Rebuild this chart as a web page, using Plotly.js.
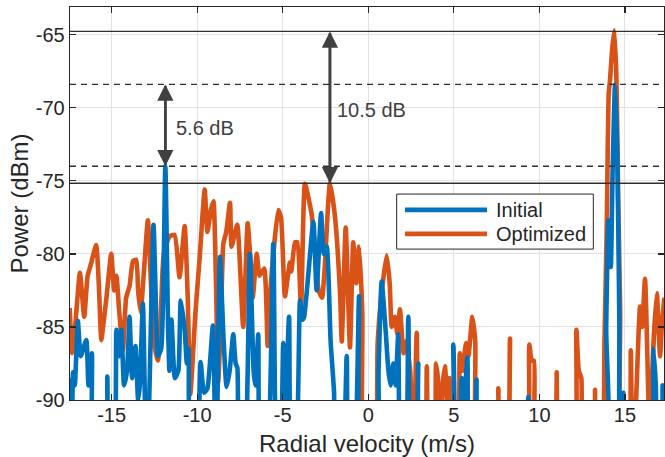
<!DOCTYPE html>
<html>
<head>
<meta charset="utf-8">
<script src="https://cdn.plot.ly/plotly-3.0.1.min.js"></script>
<style>html,body{margin:0;padding:0;background:#fff;}#chart{width:665px;height:457px;}</style>
</head>
<body>
<div id="chart"></div>
<script>
// ---- data ----
const initialX = [-17.45,-17.35,-17.25,-17.15,-16.97,-16.8,-16.48,-16.35,-16.15,-16.0,-15.4,-15.25,-15.1,-14.9,-14.72,-14.58,-14.43,-14.27,-14.1,-13.95,-13.8,-13.6,-13.45,-13.35,-13.17,-12.95,-12.8,-12.55,-12.42,-12.29,-12.1,-11.86,-11.7,-11.62,-11.5,-11.3,-11.1,-10.96,-10.73,-10.6,-10.5,-10.35,-10.1,-9.8,-9.6,-9.4,-9.08,-8.9,-8.67,-8.45,-8.28,-8.1,-7.89,-7.75,-7.65,-7.5,-7.31,-6.92,-6.7,-6.6,-6.43,-6.25,-6.0,-5.55,-5.3,-5.2,-4.97,-4.85,-4.63,-4.45,-4.3,-3.99,-3.85,-3.75,-3.21,-3.02,-2.76,-2.6,-2.43,-2.2,-2.0,-1.9,-1.6,-1.26,-1.1,-0.9,-0.54,-0.35,0.45,0.6,0.78,1.0,1.17,1.3,1.46,1.6,1.75,1.95,2.12,2.34,2.55,2.75,2.92,3.1,4.75,4.97,5.2,5.3,5.46,5.6,5.79,5.95,6.2,6.33,6.45,9.25,9.35,9.45,13.75,13.9,14.03,14.17,14.28,14.42,14.55,14.67,14.75,14.85,14.9,15.0,16.4,16.66,16.8,16.95,17.1,17.2,17.3];
const initialY = [-88.5,-96,-88.1,-89,-84.6,-87,-85.9,-89,-86.8,-96,-96,-88.4,-96,-96,-85.2,-87,-85.2,-89,-88,-84.3,-88.5,-86.3,-90,-89,-83.4,-96,-90,-78.0,-83,-87.0,-86.5,-74.0,-85,-88,-84.5,-88.5,-88,-83.2,-85.2,-87.5,-86.5,-96,-96,-87.4,-89.5,-89.2,-84.9,-96,-80.2,-86,-89.1,-88,-85.5,-87.5,-87.8,-96,-96,-80.0,-88,-89,-85.5,-96,-96,-79.3,-96,-96,-86.1,-90.5,-84.3,-96,-96,-83.2,-84.5,-84.3,-77.8,-82.5,-77.2,-80,-79.5,-86,-89.5,-96,-96,-87.0,-96,-96,-82.9,-96,-96,-88,-81.9,-85,-87.9,-89,-87.5,-89,-85.5,-96,-96,-84.3,-96,-96,-87.5,-96,-96,-86.2,-96,-96,-88.5,-90,-87.1,-96,-96,-88.6,-96,-96,-89.8,-96,-96,-85,-77.7,-80.9,-74.2,-68.4,-73.1,-84.5,-96,-96,-89.5,-96,-96,-86.5,-89,-96,-96,-89,-96];

const optimizedX = [-17.45,-17.3,-17.2,-16.85,-16.6,-16.4,-16.22,-15.9,-15.75,-15.6,-15.5,-15.3,-15.02,-14.85,-14.72,-14.55,-14.34,-14.15,-13.95,-13.75,-13.56,-13.45,-13.3,-13.1,-12.88,-12.7,-12.55,-12.29,-12.15,-11.95,-11.61,-11.32,-11.03,-10.73,-10.55,-10.4,-10.1,-9.85,-9.56,-9.4,-9.2,-9.05,-8.9,-8.77,-8.6,-8.47,-8.3,-8.08,-7.99,-7.66,-7.31,-7.05,-6.85,-6.75,-6.52,-6.35,-6.08,-5.88,-5.75,-5.26,-5.1,-4.87,-4.58,-4.5,-4.28,-4.15,-3.93,-3.7,-3.31,-3.1,-2.9,-2.7,-2.55,-2.24,-1.95,-1.65,-1.55,-1.32,-1.07,-0.88,-0.7,-0.54,-0.35,-0.2,0.3,0.55,0.75,1.07,1.25,1.37,1.56,1.7,1.85,2.06,2.2,2.45,2.62,2.83,3.05,3.25,3.42,3.6,3.8,3.96,4.1,4.2,4.35,4.48,4.62,4.74,4.85,5.15,5.35,5.5,5.71,5.85,6.08,6.25,6.45,7.45,7.6,7.75,8.05,8.28,8.45,9.2,9.41,9.55,9.68,9.85,10.85,11.01,11.15,11.95,12.16,12.3,12.45,12.6,13.15,13.25,13.35,13.6,13.8,13.93,14.05,14.12,14.25,14.38,14.5,14.6,14.72,14.8,15.15,15.34,15.45,15.65,15.88,16.0,16.17,16.35,16.5,16.6,16.86,17.05,17.15,17.3];
const optimizedY = [-83.7,-86.8,-86,-81.3,-84.3,-81.5,-80.75,-79.4,-82,-85.9,-85,-83,-80.0,-82.5,-81.5,-84,-86.6,-83,-82.2,-80.5,-80.4,-82.5,-84,-81,-77.7,-82,-86,-87.3,-85,-80,-78.8,-78.7,-81.6,-78.1,-83,-89.6,-84,-80.2,-75.6,-78.5,-77,-76.4,-82,-88.8,-84,-79.3,-78.5,-76.5,-79.5,-78.0,-85.0,-77.9,-81,-83,-80.0,-81.5,-81.0,-86.3,-83,-77.0,-77.5,-82.9,-80.6,-81.2,-79.2,-79.2,-83.8,-75.2,-77.3,-80,-82.5,-83,-81,-75.16,-77.4,-82.7,-86,-78.2,-86.4,-79.2,-82,-79.5,-84,-96,-96,-86,-83,-80.1,-82,-85.0,-84.3,-85.5,-83.8,-86.8,-86,-88,-96,-85.4,-96,-96,-87.7,-96,-96,-87.5,-89,-96,-89,-87.7,-90,-88.5,-96,-96,-86.8,-88,-86.1,-87,-84.3,-86,-96,-96,-89.2,-96,-96,-85.8,-96,-96,-86.2,-87.3,-87.3,-96,-96,-88.1,-96,-96,-85.2,-88,-88.5,-96,-96,-89.3,-96,-96,-86,-78.5,-69,-68.2,-66,-64.7,-68,-76,-84,-96,-96,-86.6,-96,-90,-83.6,-85,-81.7,-89,-96,-88,-82.7,-87,-85,-83];

const seriesNames = ['Initial', 'Optimized'];
const xTickVals = [-15, -10, -5, 0, 5, 10, 15];
const xTickText = ['-15', '-10', '-5', '0', '5', '10', '15'];
const yTickVals = [-90, -85, -80, -75, -70, -65];
const yTickText = ['-90', '-85', '-80', '-75', '-70', '-65'];
// reference levels (dBm) and arrow positions (m/s)
const refSolid = [-64.77, -75.16];
const refDashed = [-68.4, -74.0];
const arrow1 = {x: -11.86, top: -68.4, bottom: -74.0, label: '5.6 dB'};
const arrow2 = {x: -2.24, top: -64.77, bottom: -75.16, label: '10.5 dB'};

const BLUE = '#0072BD', ORANGE = '#D95319', DARK = '#404040';
const FONT = 'Liberation Sans, Arial, sans-serif';
const LW = 4.6;

const traces = [
  {x: initialX, y: initialY, type: 'scatter', mode: 'lines', name: seriesNames[0],
   line: {color: BLUE, width: LW, shape: 'spline', smoothing: 0.5}, showlegend: false},
  {x: optimizedX, y: optimizedY, type: 'scatter', mode: 'lines', name: seriesNames[1],
   line: {color: ORANGE, width: LW, shape: 'spline', smoothing: 0.5}, showlegend: false}
];
// draw initial on top of optimized
const data = [traces[1], traces[0]];

const shapes = [];
refSolid.forEach(v => shapes.push({type: 'line', xref: 'paper', yref: 'y', x0: 0, x1: 1, y0: v, y1: v,
  line: {color: '#303030', width: 1.4}, layer: 'above'}));
refDashed.forEach(v => shapes.push({type: 'line', xref: 'paper', yref: 'y', x0: 0, x1: 1, y0: v, y1: v,
  line: {color: '#303030', width: 1.3, dash: '6px,5px'}, layer: 'above'}));
// legend box
shapes.push({type: 'rect', xref: 'paper', yref: 'paper', x0: 0.550, x1: 0.881, y0: 0.384, y1: 0.524,
  fillcolor: '#ffffff', line: {color: '#262626', width: 1}, layer: 'above'});
shapes.push({type: 'line', xref: 'paper', yref: 'paper', x0: 0.564, x1: 0.702, y0: 0.4838, y1: 0.4838,
  line: {color: BLUE, width: LW}, layer: 'above'});
shapes.push({type: 'line', xref: 'paper', yref: 'paper', x0: 0.564, x1: 0.702, y0: 0.4227, y1: 0.4227,
  line: {color: ORANGE, width: LW}, layer: 'above'});

function arrowAnn(a, head, tail) {
  return {x: a.x, y: head, ax: a.x, ay: tail, xref: 'x', yref: 'y', axref: 'x', ayref: 'y',
    text: '', showarrow: true, arrowhead: 2, arrowsize: 1.25, arrowwidth: 2.6, arrowcolor: DARK,
    standoff: 0, startstandoff: 0};
}
const annotations = [
  arrowAnn(arrow1, arrow1.top, arrow1.bottom),
  arrowAnn(arrow1, arrow1.bottom, arrow1.top),
  arrowAnn(arrow2, arrow2.top, arrow2.bottom),
  arrowAnn(arrow2, arrow2.bottom, arrow2.top),
  {x: -11.35, y: -71.35, xref: 'x', yref: 'y', text: arrow1.label, showarrow: false, xanchor: 'left',
   font: {family: FONT, size: 20, color: DARK}},
  {x: -1.95, y: -70.14, xref: 'x', yref: 'y', text: arrow2.label, showarrow: false, xanchor: 'left',
   font: {family: FONT, size: 20, color: DARK}},
  {x: 0.7138, y: 0.4838, xref: 'paper', yref: 'paper', text: seriesNames[0], showarrow: false,
   xanchor: 'left', yanchor: 'middle', font: {family: FONT, size: 20, color: '#262626'}},
  {x: 0.7138, y: 0.4227, xref: 'paper', yref: 'paper', text: seriesNames[1], showarrow: false,
   xanchor: 'left', yanchor: 'middle', font: {family: FONT, size: 20, color: '#262626'}}
];

const axisCommon = {
  showline: true, linecolor: '#262626', linewidth: 1.3, mirror: 'ticks',
  ticks: 'inside', ticklen: 6, tickwidth: 1.2, tickcolor: '#262626',
  showgrid: true, gridcolor: '#e1e1e1', gridwidth: 1, zeroline: false,
  tickfont: {family: FONT, size: 20, color: '#262626'}, fixedrange: true
};

const layout = {
  width: 665, height: 457,
  margin: {l: 70, r: 1, t: 7, b: 57},
  paper_bgcolor: '#ffffff', plot_bgcolor: '#ffffff',
  showlegend: false,
  font: {family: FONT},
  xaxis: Object.assign({}, axisCommon, {
    range: [-17.43, 17.28], tickmode: 'array', tickvals: xTickVals, ticktext: xTickText,
    ticklabelstandoff: -3,
    title: {text: 'Radial velocity (m/s)', font: {family: FONT, size: 24, color: '#262626'}, standoff: 12}
  }),
  yaxis: Object.assign({}, axisCommon, {
    range: [-90, -63.1], tickmode: 'array', tickvals: yTickVals, ticktext: yTickText,
    title: {text: 'Power (dBm)', font: {family: FONT, size: 24, color: '#262626'}, standoff: 0}
  }),
  shapes: shapes,
  annotations: annotations
};

Plotly.newPlot('chart', data, layout, {displayModeBar: false, staticPlot: true});
</script>
</body>
</html>
